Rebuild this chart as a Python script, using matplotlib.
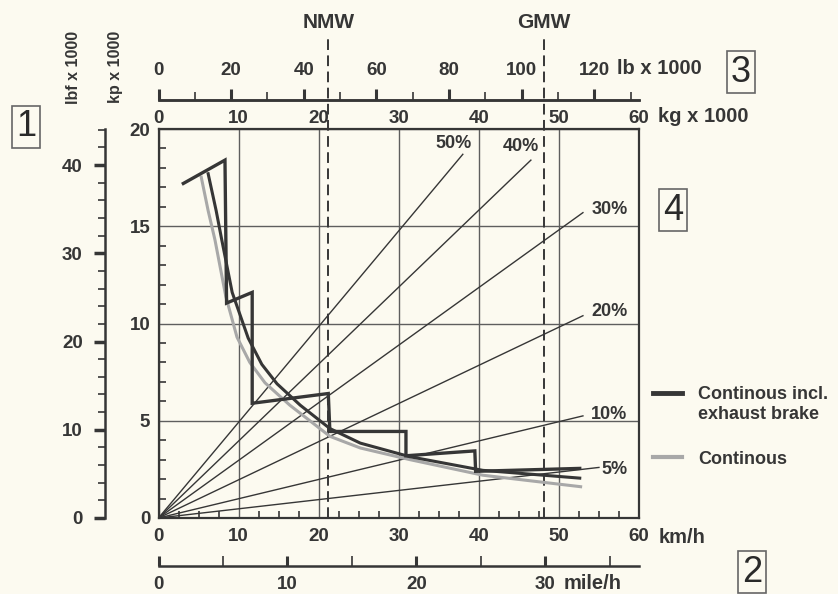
import numpy as np
import matplotlib.pyplot as plt
from matplotlib.ticker import MultipleLocator, FixedLocator
from matplotlib.lines import Line2D

plt.rcParams['font.family'] = ['Liberation Sans', 'DejaVu Sans']

# gradient lines from origin (x = kg x 1000, y = kp x 1000)
grade_labels = ['50%', '40%', '30%', '20%', '10%', '5%']
grade_end_x = [38.0, 46.5, 53.0, 53.0, 53.0, 55.0]
grade_end_y = [18.7, 18.4, 15.7, 10.4, 5.25, 2.6]

# exhaust brake, stepped per gear
exh_x = [3.1, 8.3, 8.5, 11.7, 11.7, 21.2, 21.4, 30.9, 30.9, 39.5, 39.6, 52.6]
exh_y = [17.2, 18.4, 11.05, 11.6, 5.9, 6.4, 4.45, 4.45, 3.2, 3.45, 2.4, 2.55]

# envelope of the exhaust brake curve
env_x = [6.2, 7.2, 7.9, 9.2, 11.2, 12.9, 14.8, 17.7, 21.4, 25.2, 31.4, 40.5, 52.6]
env_y = [17.7, 15.8, 14.3, 11.6, 9.25, 7.9, 6.9, 5.8, 4.6, 3.85, 3.15, 2.45, 2.05]

# continous (without exhaust brake)
cont_x = [5.3, 6.2, 7.05, 8.4, 9.8, 11.4, 13.3, 16.4, 21.4, 25.2, 31.4, 40.5, 52.9]
cont_y = [17.6, 15.8, 14.3, 11.4, 9.3, 8.0, 6.95, 5.8, 4.2, 3.6, 3.0, 2.2, 1.6]

nmw_kg = 21.2
gmw_kg = 48.1

kg_ticks = [0, 10, 20, 30, 40, 50, 60]
lb_ticks = [0, 20, 40, 60, 80, 100, 120]
kp_ticks = [0, 5, 10, 15, 20]
lbf_ticks = [0, 10, 20, 30, 40]
mph_ticks = [0, 10, 20, 30]

bg = '#fcfaf0'
ink = '#363636'
grey = '#a8a8a8'
W, H = 838, 594
unit_font = dict(fontsize=14.5, fontweight='bold', color=ink)

fig = plt.figure(figsize=(W / 100, H / 100), dpi=100)
fig.patch.set_facecolor(bg)
ax = fig.add_axes([158.5 / W, (H - 518) / H, (639 - 158.5) / W, (518 - 129) / H])
ax.set_facecolor(bg)
ax.set_xlim(0, 60)
ax.set_ylim(0, 20)

for s in ax.spines.values():
    s.set_color(ink)
    s.set_linewidth(1.6)
ax.xaxis.set_major_locator(FixedLocator(kg_ticks))
ax.xaxis.set_minor_locator(MultipleLocator(2.5))
ax.yaxis.set_major_locator(FixedLocator(kp_ticks))
ax.yaxis.set_minor_locator(MultipleLocator(1))
ax.tick_params(which='both', direction='in', color=ink, top=False, right=False)
ax.tick_params(which='major', length=0, labelsize=13.5, labelcolor=ink)
ax.tick_params(axis='x', which='major', pad=7)
ax.tick_params(axis='y', which='major', pad=6)
ax.tick_params(which='minor', length=5, width=1.2)
ax.grid(True, which='major', color='#5e5e5e', lw=1.0)
ax.set_axisbelow(True)
for lab in ax.get_xticklabels() + ax.get_yticklabels():
    lab.set_fontweight('bold')
ax.annotate('km/h', xy=(60, 0), xycoords=('data', 'axes fraction'),
            xytext=(14, -7), textcoords='offset points', ha='left', va='top',
            **unit_font)

# top weight scales
top_loc = 1 + 29 / 389
lbax = ax.secondary_xaxis(top_loc, functions=(lambda k: k * 2.20462, lambda l: l / 2.20462))
lbax.xaxis.set_major_locator(FixedLocator(lb_ticks))
lbax.xaxis.set_minor_locator(MultipleLocator(10))
lbax.tick_params(which='major', direction='out', length=8, width=2.2, pad=7,
                 color=ink, labelsize=13.5, labelcolor=ink)
lbax.tick_params(which='minor', direction='out', length=6, width=1.2, color=ink)
lbax.spines['top'].set_linewidth(1.8)
lbax.spines['top'].set_color(ink)
for lab in lbax.get_xticklabels():
    lab.set_fontweight('bold')
ax.annotate('lb x 1000', xy=(120 / 2.20462, top_loc), xycoords=('data', 'axes fraction'),
            xytext=(16, 15.5), textcoords='offset points', ha='left', va='bottom',
            annotation_clip=False, **unit_font)

kgax = ax.secondary_xaxis(top_loc)
kgax.set_alignment('bottom')
kgax.xaxis.set_major_locator(FixedLocator(kg_ticks))
kgax.xaxis.set_minor_locator(FixedLocator([]))
kgax.tick_params(which='major', length=0, pad=7, labelsize=13.5, labelcolor=ink)
kgax.spines['bottom'].set_linewidth(1.8)
kgax.spines['bottom'].set_color(ink)
for lab in kgax.get_xticklabels():
    lab.set_fontweight('bold')
ax.annotate('kg x 1000', xy=(60, top_loc), xycoords=('data', 'axes fraction'),
            xytext=(14, -5), textcoords='offset points', ha='left', va='top',
            annotation_clip=False, **unit_font)

# bottom speed scale in mile/h
mphax = ax.secondary_xaxis(-48 / 389, functions=(lambda k: k / 1.609344, lambda m: m * 1.609344))
mphax.xaxis.set_major_locator(FixedLocator(mph_ticks))
mphax.xaxis.set_minor_locator(MultipleLocator(5))
mphax.tick_params(which='major', direction='in', length=7, width=2.2, pad=7,
                  color=ink, labelsize=13.5, labelcolor=ink)
mphax.tick_params(which='minor', direction='in', length=7, width=1.2, color=ink)
mphax.spines['bottom'].set_linewidth(1.8)
mphax.spines['bottom'].set_color(ink)
for lab in mphax.get_xticklabels():
    lab.set_fontweight('bold')
ax.annotate('mile/h', xy=(30 * 1.609344, -48 / 389), xycoords=('data', 'axes fraction'),
            xytext=(13, -6), textcoords='offset points', ha='left', va='top',
            annotation_clip=False, **unit_font)

# left force scale in lbf
lbfax = ax.secondary_yaxis(-53.5 / 480.5, functions=(lambda k: k * 2.20462, lambda f: f / 2.20462))
lbfax.yaxis.set_major_locator(FixedLocator(lbf_ticks))
lbfax.yaxis.set_minor_locator(MultipleLocator(2))
lbfax.tick_params(which='major', direction='out', length=8, width=2.5, pad=8,
                  color=ink, labelsize=13.5, labelcolor=ink)
lbfax.tick_params(which='minor', direction='out', length=5, width=1.2, color=ink)
lbfax.spines['left'].set_linewidth(1.8)
lbfax.spines['left'].set_color(ink)
for lab in lbfax.get_yticklabels():
    lab.set_fontweight('bold')

fig.text(73 / W, 1 - 67 / H, 'lbf x 1000', rotation=90, ha='center', va='center',
         fontsize=11.5, fontweight='bold', color=ink)
fig.text(115 / W, 1 - 67 / H, 'kp x 1000', rotation=90, ha='center', va='center',
         fontsize=11.5, fontweight='bold', color=ink)

# gradient lines
lbl_off = {'50%': (-7, 8, 'center'), '40%': (-7, 10, 'center'), '30%': (6, 2, 'left'),
           '20%': (6, 3, 'left'), '10%': (6, 1, 'left'), '5%': (2, -1.5, 'left')}
for lab, xe, ye in zip(grade_labels, grade_end_x, grade_end_y):
    ax.plot([0, xe], [0, ye], color=ink, lw=1.0, zorder=2)
    dx, dy, ha = lbl_off[lab]
    ax.annotate(lab, xy=(xe, ye), xytext=(dx, dy), textcoords='offset points',
                ha=ha, va='center', fontsize=13, fontweight='bold', color=ink,
                annotation_clip=False)

# NMW / GMW
for xv, name in [(nmw_kg, 'NMW'), (gmw_kg, 'GMW')]:
    ax.axvline(xv, ymin=0, ymax=(518 - 35) / 389, color=ink, lw=1.4,
               ls=(0, (5.5, 2.8)), clip_on=False, zorder=3)
    ax.text(xv, 1 + (129 - 23) / 389, name, transform=ax.get_xaxis_transform(),
            ha='center', va='center', fontsize=15, fontweight='bold', color=ink)

# braking curves
ax.plot(cont_x, cont_y, color=grey, lw=2.2, zorder=4, solid_capstyle='butt')
ax.plot(env_x, env_y, color=ink, lw=2.2, zorder=5)
ax.plot(exh_x, exh_y, color=ink, lw=2.4, zorder=6, solid_joinstyle='miter')

handles = [Line2D([], [], color=ink, lw=3.5), Line2D([], [], color=grey, lw=3.0)]
leg = fig.legend(handles, ['Continous incl.\nexhaust brake', 'Continous'],
                 loc='upper left', bbox_to_anchor=(653 / W, 1 - 386 / H),
                 frameon=False, fontsize=13, handlelength=1.6, handletextpad=0.9,
                 labelspacing=1.55, borderaxespad=0, borderpad=0)
for t in leg.get_texts():
    t.set_fontweight('bold')
    t.set_color(ink)
# keep the dark sample level with the first line of its label
first = leg.legend_handles[0]
first.set_ydata(np.asarray(first.get_ydata()) + 8)

# boxed section numbers
box = dict(boxstyle='square,pad=0.1', fc='none', ec='#666666', lw=1.2)
for num, px, py in [('1', 26, 127), ('2', 752, 572), ('3', 741, 72), ('4', 673, 210)]:
    fig.text(px / W, 1 - py / H, num, ha='center', va='center', fontsize=26,
             color='#2a2a2a', bbox=box)

fig.savefig('out.png', dpi=100, facecolor=bg)
